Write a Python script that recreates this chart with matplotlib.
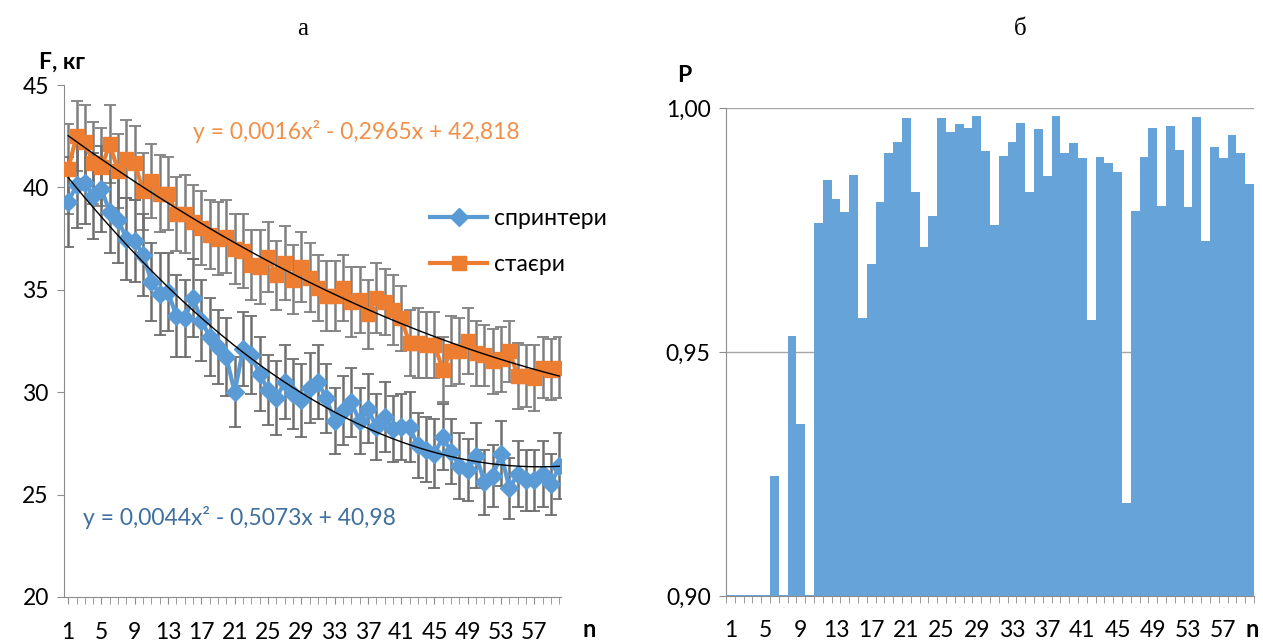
import numpy as np
import matplotlib
matplotlib.use("Agg")
import matplotlib.pyplot as plt

plt.rcParams['font.family'] = ['Lato', 'Noto Sans', 'DejaVu Sans']

# номер спроби
n = np.arange(1, 61)

# F, кг - спринтери
sprinters = [39.3, 40.1, 40.2, 39.6, 39.9, 38.8, 38.4, 37.5, 37.4, 36.7,
             35.4, 34.8, 34.9, 33.7, 33.6, 34.6, 33.5, 32.7, 32.2, 31.7,
             30.0, 32.1, 31.8, 30.9, 30.1, 29.7, 30.5, 29.9, 29.6, 30.2,
             30.5, 29.7, 28.6, 29.1, 29.5, 28.6, 29.2, 28.3, 28.8, 28.2,
             28.3, 28.3, 27.4, 27.2, 27.0, 27.8, 27.1, 26.4, 26.2, 26.9,
             25.6, 25.9, 27.0, 25.3, 26.0, 25.7, 25.7, 26.0, 25.5, 26.4]
sprinters_err = [2.2, 2.1, 2.0, 2.1, 2.1, 2.0, 2.1, 2.0, 2.0, 2.0,
                 1.9, 2.0, 1.9, 2.0, 1.9, 1.9, 2.0, 1.9, 1.8, 1.9,
                 1.7, 1.8, 1.9, 1.8, 1.7, 1.8, 1.8, 1.7, 1.8, 1.7,
                 1.8, 1.7, 1.6, 1.7, 1.7, 1.6, 1.7, 1.6, 1.7, 1.6,
                 1.6, 1.7, 1.6, 1.6, 1.7, 1.6, 1.6, 1.6, 1.5, 1.6,
                 1.6, 1.5, 1.6, 1.5, 1.6, 1.5, 1.5, 1.6, 1.5, 1.6]

# F, кг - стаєри
stayers = [40.9, 42.5, 42.2, 41.2, 41.0, 42.1, 40.8, 41.4, 41.2, 39.8,
           40.3, 39.7, 39.7, 38.7, 38.7, 38.3, 38.0, 37.7, 37.5, 37.6,
           37.0, 36.9, 36.2, 36.1, 36.6, 35.7, 36.3, 35.5, 36.1, 35.6,
           35.1, 34.7, 34.7, 35.1, 34.4, 34.5, 33.8, 34.6, 34.4, 34.0,
           33.6, 32.4, 32.4, 32.3, 32.3, 31.1, 32.0, 32.0, 32.5, 31.9,
           31.8, 31.5, 31.6, 32.0, 30.8, 30.8, 30.7, 31.2, 31.1, 31.2]
stayers_err = [2.2, 1.7, 1.8, 2.0, 1.9, 1.9, 1.8, 1.9, 1.8, 1.9,
               1.8, 1.9, 1.8, 1.8, 1.9, 1.8, 1.8, 1.7, 1.8, 1.8,
               1.7, 1.8, 1.7, 1.8, 1.7, 1.7, 1.8, 1.7, 1.7, 1.7,
               1.6, 1.7, 1.7, 1.6, 1.7, 1.6, 1.7, 1.7, 1.6, 1.7,
               1.6, 1.6, 1.7, 1.6, 1.6, 1.6, 1.7, 1.6, 1.6, 1.6,
               1.5, 1.6, 1.6, 1.5, 1.6, 1.5, 1.6, 1.5, 1.5, 1.5]

# коефіцієнти трендів (з діаграми)
trend_sprinters = [0.0044, -0.5073, 40.98]
trend_stayers = [0.0016, -0.2965, 42.818]

# P - ймовірність розбіжності
p_values = [0.9003, 0.9003, 0.9003, 0.9003, 0.9003, 0.9245, 0.9003, 0.9532, 0.9353, 0.9003,
            0.9764, 0.9852, 0.9813, 0.9786, 0.9863, 0.9569, 0.9680, 0.9808, 0.9908, 0.9931,
            0.9979, 0.9827, 0.9716, 0.9779, 0.9979, 0.9950, 0.9968, 0.9960, 0.9984, 0.9911,
            0.9761, 0.9902, 0.9931, 0.9969, 0.9827, 0.9958, 0.9861, 0.9984, 0.9908, 0.9928,
            0.9898, 0.9566, 0.9900, 0.9887, 0.9869, 0.9191, 0.9790, 0.9900, 0.9960, 0.9800,
            0.9963, 0.9914, 0.9797, 0.9981, 0.9727, 0.9921, 0.9898, 0.9945, 0.9908, 0.9845]

blue = "#5B9BD5"
orange = "#ED7D31"
gray = "#8C8C8C"
fs = 16.5

fig = plt.figure(figsize=(12.63, 6.42), dpi=100)

# ---- а ----
ax1 = fig.add_axes([0.0507, 0.0701, 0.3935, 0.7975])

for y, err, ecol in [(stayers, stayers_err, '#7F7F7F'), (sprinters, sprinters_err, '#6E6E6E')]:
    eb = ax1.errorbar(n, y, yerr=err, fmt='none', ecolor=ecol, elinewidth=1.8,
                      capsize=4, capthick=1.3, zorder=2)
    for cap in eb[1]:
        cap.set_color('black')

ax1.plot(n, sprinters, color=blue, lw=3, marker='D', ms=9, mec=blue, label='спринтери', zorder=3)
ax1.plot(n, stayers, color=orange, lw=3, marker='s', ms=10.5, mec=orange, label='стаєри', zorder=3)

xs = np.linspace(1, 60, 200)
ax1.plot(xs, np.polyval(trend_sprinters, xs), color='black', lw=1, zorder=4)
ax1.plot(xs, np.polyval(trend_stayers, xs), color='black', lw=1, zorder=4)

ax1.set_xlim(0.5, 60.2)
ax1.set_ylim(20, 45)
ax1.set_yticks([20, 25, 30, 35, 40, 45])
ax1.set_xticks(n, minor=True)
ax1.set_xticks(n[::4])
ax1.set_xticklabels([str(v) for v in n[::4]])
ax1.tick_params(axis='x', which='both', direction='out', length=5, color=gray, labelsize=fs, pad=13)
ax1.tick_params(axis='y', direction='out', length=5, color=gray, labelsize=fs, pad=6)
for s in ['top', 'right']:
    ax1.spines[s].set_visible(False)
for s in ['left', 'bottom']:
    ax1.spines[s].set_color(gray)

ax1.legend(loc='upper left', bbox_to_anchor=(0.695, 0.80), frameon=False, fontsize=fs,
           handlelength=2.5, labelspacing=1.1, handletextpad=0.3)

ax1.text(0.26, 0.91, 'y = 0,0016x² - 0,2965x + 42,818', transform=ax1.transAxes,
         color='#F0904A', fontsize=fs, va='center')
ax1.text(0.038, 0.156, 'y = 0,0044x² - 0,5073x + 40,98', transform=ax1.transAxes,
         color='#3F6F9E', fontsize=fs, va='center')

fig.text(0.031, 0.893, 'F, кг', fontsize=fs, fontweight='bold')
fig.text(0.461, 0.008, 'n', fontsize=17, fontweight='bold')
fig.text(0.240, 0.955, 'а', fontsize=18, family='Liberation Serif', ha='center', va='center')

# ---- б ----
ax2 = fig.add_axes([0.5748, 0.0717, 0.418, 0.760])
ax2.bar(n, np.array(p_values) - 0.9, bottom=0.9, width=1.0, color="#66A3D9", zorder=2)
ax2.set_xlim(0.5, 60.5)
ax2.set_ylim(0.9, 1.0)
ax2.set_yticks([0.90, 0.95, 1.00])
ax2.set_yticklabels(['0,90', '0,95', '1,00'])
ax2.yaxis.grid(True, color='#A6A6A6', lw=1, zorder=0)
ax2.set_axisbelow(True)
ax2.set_xticks(np.arange(0.5, 61, 1), minor=True)
ax2.set_xticks(n[::4])
ax2.set_xticklabels([str(v) for v in n[::4]])
ax2.tick_params(axis='x', which='major', length=0, labelsize=fs, pad=17)
ax2.tick_params(axis='x', which='minor', direction='out', length=5, color=gray)
ax2.tick_params(axis='y', direction='out', length=5, color=gray, labelsize=fs, pad=6)
for s in ['top', 'right']:
    ax2.spines[s].set_visible(False)
for s in ['left', 'bottom']:
    ax2.spines[s].set_color(gray)

fig.text(0.536, 0.873, 'P', fontsize=fs, fontweight='bold')
fig.text(0.986, 0.008, 'n', fontsize=17, fontweight='bold')
fig.text(0.808, 0.955, 'б', fontsize=18, family='Liberation Serif', ha='center', va='center')

fig.savefig('out.png', dpi=100)
